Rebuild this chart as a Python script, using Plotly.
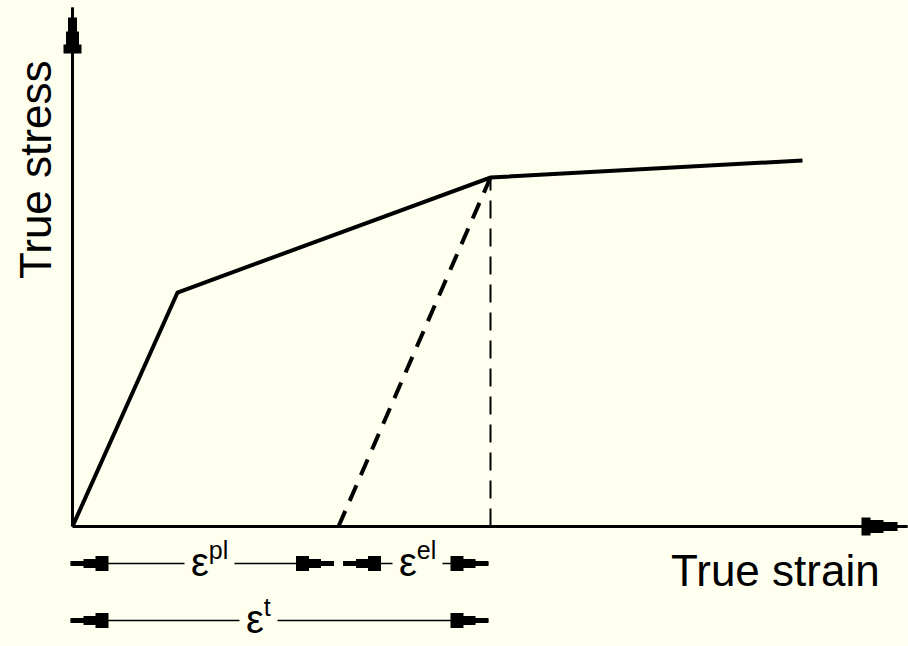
import plotly.graph_objects as go

# ---------------- data ----------------
W, H = 908, 646
PX = 100.0  # pixels per data unit (same on both axes)
X_RANGE = [-0.725, -0.725 + W / PX]
Y_RANGE = [-1.195, -1.195 + H / PX]

strain = [0.0, 1.05, 4.18, 7.30]          # true strain (schematic units)
stress = [0.0, 2.34, 3.49, 3.66]          # true stress (schematic units)
unload_strain = [2.66, 4.18]              # elastic unloading line
unload_stress = [0.0, 3.49]
axis_x_end = 8.35
axis_y_end = 5.19

dim_levels = [-0.37, -0.94]               # stress level of dimension rows
dim_spans = [(0.0, 2.66, 0), (2.66, 4.18, 0), (0.0, 4.18, 1)]
dim_labels = ["ε<sup><span style='font-size:25px'>pl</span></sup>",
              "ε<sup><span style='font-size:25px'>el</span></sup>",
              "ε<sup><span style='font-size:25px'>t</span></sup>"]
dim_label_x = [1.37, 3.45, 1.86]

x_title = "True strain"
y_title = "True stress"

BG = "#FFFFF0"
INK = "black"
FONT = "Liberation Sans, Arial, sans-serif"

fig = go.Figure()


def head_path(tip, u, steps, lw):
    """Stepped arrow head polygon, tip in data units, u unit direction."""
    tx, ty = tip
    ux, uy = u
    vx, vy = -uy, ux
    up = [(0, lw / 2)]
    prev = lw / 2
    for s, e, hw in steps:
        up.append((s, prev))
        up.append((s, hw))
        up.append((e, hw))
        prev = hw
    pts = up + [(d, -h) for d, h in reversed(up)]
    coords = []
    for d, h in pts:
        x = tx + (-d * ux + h * vx) / PX
        y = ty + (-d * uy + h * vy) / PX
        coords.append(f"{x:.4f},{y:.4f}")
    return "M" + "L".join(coords) + "Z"


AX_STEPS = [(10, 24, 4.5), (24, 37, 6.5), (37, 46, 9)]
DIM_STEPS = [(0, 13, 2.5), (13, 25, 4.5), (25, 38, 7.5)]

# axes
fig.add_trace(go.Scatter(x=[0, axis_x_end], y=[0, 0], mode="lines",
                         line=dict(color=INK, width=3), hoverinfo="skip"))
fig.add_trace(go.Scatter(x=[0, 0], y=[0, axis_y_end], mode="lines",
                         line=dict(color=INK, width=3), hoverinfo="skip"))
fig.add_shape(type="path", path=head_path((axis_x_end, 0), (1, 0), AX_STEPS, 2),
              fillcolor=INK, line=dict(width=0), xref="x", yref="y")
fig.add_shape(type="path", path=head_path((0, axis_y_end), (0, 1), AX_STEPS, 2),
              fillcolor=INK, line=dict(width=0), xref="x", yref="y")

# stress-strain curve
fig.add_trace(go.Scatter(x=strain, y=stress, mode="lines",
                         line=dict(color=INK, width=4), hoverinfo="skip"))
# unloading dashed line
fig.add_trace(go.Scatter(x=unload_strain, y=unload_stress, mode="lines",
                         line=dict(color=INK, width=4, dash="17px,11px"),
                         hoverinfo="skip"))
# vertical thin dashed line
fig.add_trace(go.Scatter(x=[strain[2], strain[2]], y=[0, stress[2]], mode="lines",
                         line=dict(color=INK, width=2, dash="18px,10px"),
                         hoverinfo="skip"))

# dimension lines
inset = 4.5 / PX
for (a, b, row), lab, lx in zip(dim_spans, dim_labels, dim_label_x):
    yv = dim_levels[row]
    a2 = a - 2 / PX if a == 0 else a + inset
    b2 = b - 2 / PX if b == strain[2] else b - inset
    fig.add_trace(go.Scatter(x=[a2, b2], y=[yv, yv], mode="lines",
                             line=dict(color=INK, width=1.5), hoverinfo="skip"))
    fig.add_shape(type="path", path=head_path((a2, yv), (-1, 0), DIM_STEPS, 1.5),
                  fillcolor=INK, line=dict(width=0), xref="x", yref="y")
    fig.add_shape(type="path", path=head_path((b2, yv), (1, 0), DIM_STEPS, 1.5),
                  fillcolor=INK, line=dict(width=0), xref="x", yref="y")
    fig.add_annotation(x=lx, y=yv, text=lab, showarrow=False,
                       font=dict(family=FONT, size=40, color=INK),
                       bgcolor=BG, borderpad=6, yshift=4)

# axis titles
fig.add_annotation(x=7.03, y=-0.44, text=x_title, showarrow=False,
                   font=dict(family=FONT, size=44, color=INK))
fig.add_annotation(x=-0.37, y=3.56, text=y_title, showarrow=False, textangle=-90,
                   font=dict(family=FONT, size=44, color=INK))

fig.update_layout(
    width=W, height=H, margin=dict(l=0, r=0, t=0, b=0),
    paper_bgcolor=BG, plot_bgcolor=BG, showlegend=False,
    xaxis=dict(range=X_RANGE, visible=False, fixedrange=True),
    yaxis=dict(range=Y_RANGE, visible=False, fixedrange=True),
)
fig.write_html(
    "out.html",
    config={"displayModeBar": False},
    post_script="document.body.style.margin='0';"
                "document.body.style.overflow='hidden';"
                "document.body.style.background='" + BG + "';",
)
